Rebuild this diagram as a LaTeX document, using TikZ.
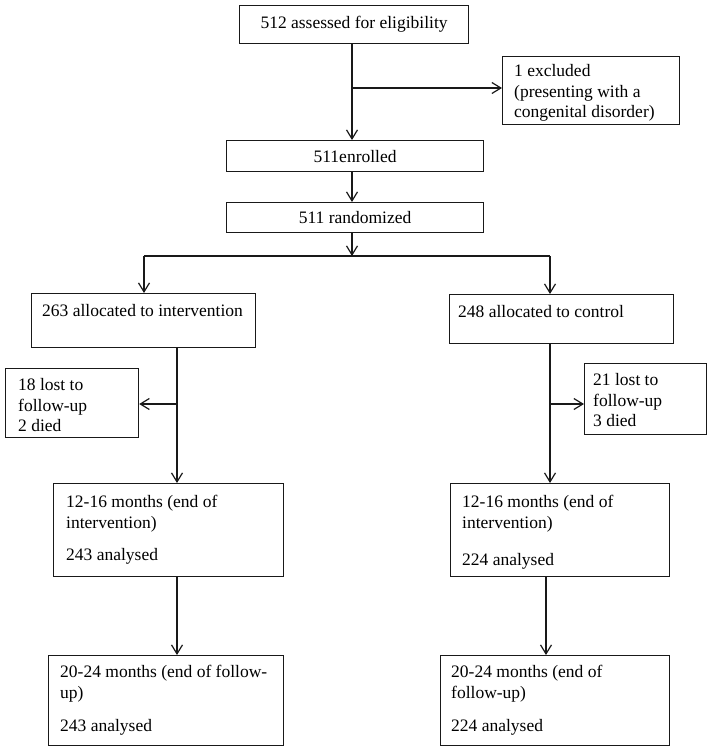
\documentclass[tikz,border=0pt]{standalone}
\usepackage{fontspec}
\setmainfont{Liberation Serif}
\usetikzlibrary{arrows.meta}
\begin{document}
\begin{tikzpicture}[x=1pt,y=-1pt,
  box/.style={draw=black!90, line width=1.2pt, inner sep=0pt, anchor=north west, font=\fontsize{17.5}{20.5}\selectfont},
  lbl/.style={inner sep=0pt, anchor=north west, align=left, font=\fontsize{17.5}{20.5}\selectfont},
  arr/.style={draw=black!90, line width=1.2pt, -{Straight Barb[length=9pt,width=11pt]}},
  ln/.style={draw=black!90, line width=1.2pt}]
\useasboundingbox (0,0) rectangle (709,747);
% boxes
\node[box, minimum width=229pt, minimum height=38pt] (b1) at (239,5) {512 assessed for eligibility};
\node[box, minimum width=177pt, minimum height=68pt] (ex) at (502,56) {};
\node[box, minimum width=257pt, minimum height=31pt] (b2) at (226,140) {511enrolled};
\node[box, minimum width=257pt, minimum height=30pt] (b3) at (226,202) {511 randomized};
\node[box, minimum width=224pt, minimum height=54pt] (al) at (31,293) {};
\node[box, minimum width=224pt, minimum height=49pt] (ar) at (449,294) {};
\node[box, minimum width=133pt, minimum height=69pt] (lostL) at (5,368) {};
\node[box, minimum width=122pt, minimum height=71pt] (lostR) at (584,363) {};
\node[box, minimum width=230pt, minimum height=93pt] (i1L) at (53,483) {};
\node[box, minimum width=219pt, minimum height=93pt] (i1R) at (450,483) {};
\node[box, minimum width=235pt, minimum height=90pt] (f1L) at (48,655) {};
\node[box, minimum width=229pt, minimum height=90pt] (f1R) at (440,655) {};
% texts
\node[lbl] (exT) at (514,62) {\strut 1 excluded\\(presenting with a\\congenital disorder)};
\node[lbl] (alT) at (42,302) {\strut 263 allocated to intervention};
\node[lbl] (arT) at (458,303) {\strut 248 allocated to control};
\node[lbl] (lostLT) at (18,376) {\strut 18 lost to\\follow-up\\2 died};
\node[lbl] (lostRT) at (593,371) {\strut 21 lost to\\follow-up\\3 died};
\node[lbl] (i1LT) at (66,493) {\strut 12-16 months (end of\\intervention)\\[12pt]243 analysed};
\node[lbl] (i1RT) at (462,493) {\strut 12-16 months (end of\\intervention)\\[17pt]224 analysed};
\node[lbl] (f1LT) at (60,663) {\strut 20-24 months (end of follow-\\up)\\[13pt]243 analysed};
\node[lbl] (f1RT) at (451,663) {\strut 20-24 months (end of\\follow-up)\\[13pt]224 analysed};
% connectors
\coordinate (c0) at (352,0);
\draw[arr] (c0 |- b1.south) -- (c0 |- b2.north);
\draw[arr] (c0 |- 0,88) -- (ex.west |- 0,88);
\draw[arr] (c0 |- b2.south) -- (c0 |- b3.north);
\coordinate (bar) at (352,256);
\draw[arr] (c0 |- b3.south) -- (bar);
\coordinate (barL) at (144,256);
\coordinate (barR) at (550,256);
\draw[ln] (barL) -- (barR);
\draw[arr] (barL) -- (barL |- al.north);
\draw[arr] (barR) -- (barR |- ar.north);
\coordinate (cL) at (177,0);
\coordinate (cR) at (550,0);
\coordinate (dR) at (546,0);
\draw[arr] (cL |- al.south) -- (cL |- i1L.north);
\draw[arr] (cL |- 0,404) -- (lostL.east |- 0,404);
\draw[arr] (cR |- ar.south) -- (cR |- i1R.north);
\draw[arr] (cR |- 0,404) -- (lostR.west |- 0,404);
\draw[arr] (cL |- i1L.south) -- (cL |- f1L.north);
\draw[arr] (dR |- i1R.south) -- (dR |- f1R.north);
\end{tikzpicture}
\end{document}
